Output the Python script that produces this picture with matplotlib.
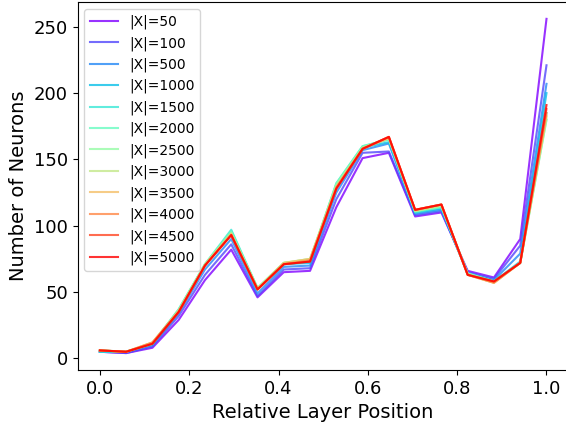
import numpy as np
import matplotlib
matplotlib.use("Agg")
import matplotlib.pyplot as plt

sizes = [50, 100, 500, 1000, 1500, 2000, 2500, 3000, 3500, 4000, 4500, 5000]
n_layers = 18
x = np.arange(n_layers) / (n_layers - 1)

s50   = [5, 4, 8, 29, 59, 82, 46, 65, 66, 114, 151, 155, 107, 110, 66, 61, 90, 256]
s100  = [5, 4, 9, 32, 63, 86, 47, 67, 68, 120, 155, 156, 108, 111, 65, 60, 85, 221]
s500  = [5, 5, 10, 34, 67, 90, 49, 69, 70, 125, 157, 162, 109, 112, 64, 59, 79, 207]
s1000 = [5, 5, 11, 36, 70, 96, 52, 71, 72, 130, 159, 163, 110, 113, 64, 58, 73, 200]
s1500 = [5, 5, 11, 37, 71, 97, 53, 71, 73, 132, 160, 165, 110, 114, 64, 58, 72, 185]
s2000 = [6, 5, 11, 37, 71, 96, 53, 72, 74, 132, 160, 165, 111, 114, 64, 58, 72, 180]
s2500 = [6, 5, 11, 36, 71, 95, 53, 72, 75, 131, 159, 166, 111, 115, 64, 58, 72, 180]
s3000 = [6, 5, 12, 36, 71, 94, 53, 72, 75, 130, 159, 166, 111, 115, 63, 57, 72, 182]
s3500 = [6, 5, 12, 36, 70, 94, 52, 72, 75, 129, 158, 166, 112, 116, 63, 57, 72, 183]
s4000 = [6, 5, 12, 35, 70, 93, 52, 71, 74, 129, 158, 167, 112, 116, 63, 57, 72, 185]
s4500 = [6, 5, 11, 35, 70, 93, 52, 71, 73, 128, 158, 167, 112, 116, 63, 58, 72, 188]
s5000 = [6, 5, 11, 35, 70, 93, 52, 71, 73, 128, 158, 167, 112, 116, 63, 58, 72, 191]

series = [s50, s100, s500, s1000, s1500, s2000, s2500, s3000, s3500, s4000, s4500, s5000]

fig = plt.figure(figsize=(5.66, 4.28), dpi=100)
ax = fig.add_axes([0.137, 0.136, 0.868, 0.859])
colors = plt.cm.rainbow(np.linspace(0, 1, len(sizes)))
for s, vals, c in zip(sizes, series, colors):
    ax.plot(x, vals, color=c, alpha=0.8, lw=1.5, label=f"|X|={s}")

ax.set_xlabel("Relative Layer Position", fontsize=14)
ax.set_ylabel("Number of Neurons", fontsize=14)
ax.tick_params(labelsize=13)
ax.set_xticks([0.0, 0.2, 0.4, 0.6, 0.8, 1.0])
ax.set_yticks([0, 50, 100, 150, 200, 250])
ax.legend(loc="upper left", fontsize=10)
fig.savefig("out.png", dpi=100)
